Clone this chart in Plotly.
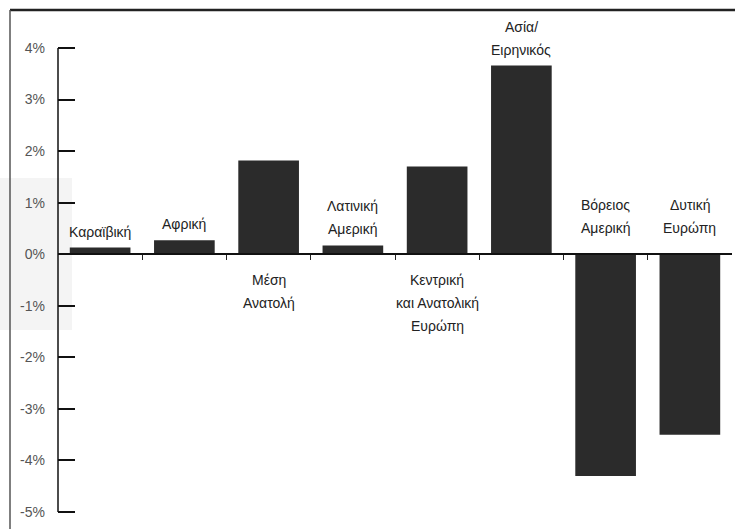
import plotly.graph_objects as go

# Regions and their change (%)
regions = [
    "Καραϊβική",
    "Αφρική",
    "Μέση<br>Ανατολή",
    "Λατινική<br>Αμερική",
    "Κεντρική<br>και Ανατολική<br>Ευρώπη",
    "Ασία/<br>Ειρηνικός",
    "Βόρειος<br>Αμερική",
    "Δυτική<br>Ευρώπη",
]
values = [0.13, 0.27, 1.82, 0.17, 1.7, 3.66, -4.3, -3.5]
# whether the region name sits below the zero line
label_below = [False, False, True, False, True, False, False, False]
y_ticks = [4, 3, 2, 1, 0, -1, -2, -3, -4, -5]
y_lo, y_hi = -5, 4
pad = 0.02  # small padding so the end ticks are drawn
y_range = [y_lo - pad, y_hi + pad]

W, H = 735, 529
M = dict(l=58, r=3, t=47, b=16)
plot_w = W - M["l"] - M["r"]
plot_h = H - M["t"] - M["b"]

BAR = "#2b2b2b"
FONT = "Liberation Sans, Arial, sans-serif"

fig = go.Figure()
fig.add_trace(go.Bar(
    x=list(range(len(values))),
    y=values,
    marker=dict(color=BAR, line=dict(width=0)),
    width=0.72,
    hoverinfo="skip",
))

# region names, one annotation per line so the line spacing can be set
LINE = 23
for i, (name, v, below) in enumerate(zip(regions, values, label_below)):
    lines = name.split("<br>")
    n = len(lines)
    for k, text in enumerate(lines):
        if below:
            # stacked downward from the zero line
            y_ref = 0
            shift = -(26 + LINE * k)
        else:
            # stacked upward from the bar top (or zero line for negatives)
            y_ref = max(v, 0)
            gap = 16 if v > 0 else 26
            shift = gap + LINE * (n - 1 - k)
        fig.add_annotation(
            x=i, y=y_ref, xref="x", yref="y",
            text=text, showarrow=False,
            yshift=shift,
            font=dict(family=FONT, size=14, color="#222"),
            xanchor="center", yanchor="middle",
        )

zero_pos = (0 - y_range[0]) / (y_range[1] - y_range[0])

fig.update_layout(
    width=W, height=H,
    margin=M,
    paper_bgcolor="white",
    plot_bgcolor="white",
    showlegend=False,
    bargap=0.28,
    xaxis=dict(
        type="linear",
        range=[-0.5, len(values) - 0.5],
        anchor="free",
        position=zero_pos,
        showline=True, linecolor="#111", linewidth=2,
        tickmode="array",
        tickvals=[i + 0.5 for i in range(len(values) - 1)],
        ticks="outside", ticklen=5, tickwidth=1, tickcolor="#222",
        showticklabels=False,
        showgrid=False, zeroline=False,
    ),
    yaxis=dict(
        range=y_range,
        tickmode="array",
        tickvals=y_ticks,
        ticktext=[f"{t}%" for t in y_ticks],
        ticks="inside", ticklen=17, tickwidth=2, tickcolor="#111",
        showline=False,
        showgrid=False, zeroline=False,
        tickfont=dict(family=FONT, size=14, color="#555"),
        ticklabelstandoff=12,
    ),
)

# vertical axis line spanning exactly the tick range
fig.add_shape(type="line", xref="paper", yref="y",
              x0=0, x1=0, y0=y_lo, y1=y_hi,
              line=dict(color="#111", width=1.5))

# page frame lines
def px_to_paper_x(px):
    return (px - M["l"]) / plot_w

def px_to_paper_y(py):
    return (H - M["b"] - py) / plot_h

fig.add_shape(type="rect", xref="paper", yref="paper", layer="below",
              x0=px_to_paper_x(0), x1=px_to_paper_x(72),
              y0=px_to_paper_y(330), y1=px_to_paper_y(178),
              fillcolor="#f4f4f4", line=dict(width=0))
fig.add_shape(type="line", xref="paper", yref="paper",
              x0=px_to_paper_x(10), x1=px_to_paper_x(735),
              y0=px_to_paper_y(10), y1=px_to_paper_y(10),
              line=dict(color="#222", width=2.5))
fig.add_shape(type="line", xref="paper", yref="paper",
              x0=px_to_paper_x(10), x1=px_to_paper_x(10),
              y0=px_to_paper_y(10), y1=px_to_paper_y(529),
              line=dict(color="#555", width=1.5))

fig.write_html("out.html")
